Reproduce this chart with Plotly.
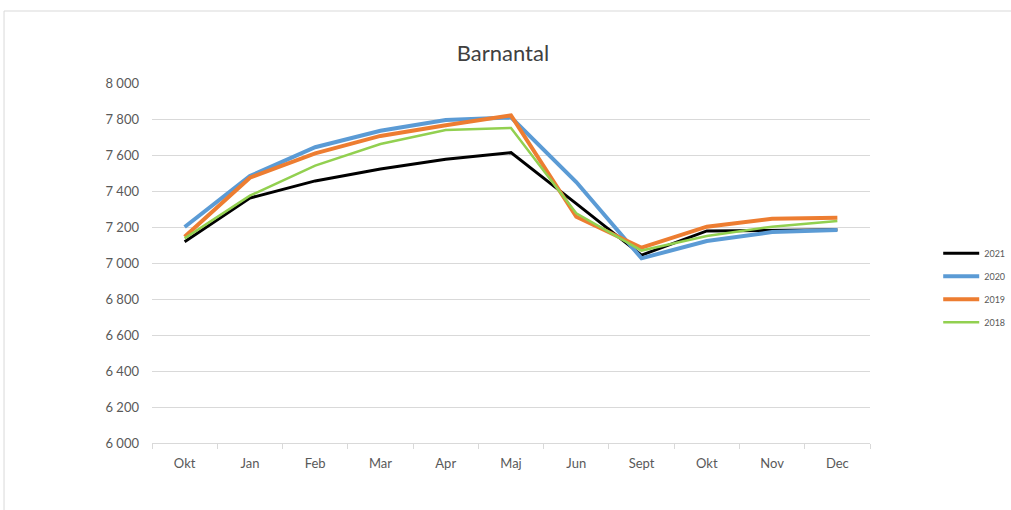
import plotly.graph_objects as go

categories = ["Okt", "Jan", "Feb", "Mar", "Apr", "Maj", "Jun", "Sept", "Okt ", "Nov", "Dec"]
tick_labels = ["Okt", "Jan", "Feb", "Mar", "Apr", "Maj", "Jun", "Sept", "Okt", "Nov", "Dec"]

y2021 = [7118, 7361, 7456, 7522, 7576, 7613, 7330, 7044, 7178, 7181, 7185]
y2020 = [7200, 7483, 7643, 7735, 7794, 7809, 7450, 7026, 7122, 7172, 7183]
y2019 = [7146, 7474, 7609, 7706, 7765, 7820, 7257, 7085, 7202, 7246, 7252]
y2018 = [7137, 7374, 7541, 7661, 7739, 7750, 7276, 7069, 7150, 7202, 7233]

series = [
    ("2021", y2021, "#000000", 3),
    ("2020", y2020, "#5B9BD5", 4),
    ("2019", y2019, "#ED7D31", 4),
    ("2018", y2018, "#92D050", 2.5),
]

fig = go.Figure()
for i, (name, ys, color, w) in enumerate(series):
    fig.add_trace(go.Scatter(
        x=categories, y=ys, name=name, mode="lines",
        line=dict(color=color, width=w),
        legendgroup=name,
        legendrank=i,
    ))

grid = "#d9d9d9"
fig.update_layout(
    width=1011, height=510,
    margin=dict(l=152, r=141, t=83, b=67),
    paper_bgcolor="white", plot_bgcolor="white",
    separators=", ",
    font=dict(family="Lato, Open Sans, sans-serif", color="#595959", size=13),
    title=dict(text="Barnantal", x=0.4975, xanchor="center", y=0.895, yanchor="middle",
               font=dict(size=22, color="#404040", weight=400,
                         family="Lato, Open Sans, sans-serif")),
    showlegend=True,
    legend=dict(xref="container", yref="container",
                x=0.928, xanchor="left", y=0.436, yanchor="middle",
                font=dict(size=9, color="#595959"),
                itemwidth=36, tracegroupgap=4, bgcolor="rgba(0,0,0,0)"),
    xaxis=dict(
        type="category", categoryorder="array", categoryarray=categories,
        tickvals=categories, ticktext=tick_labels,
        showgrid=False, showline=True, linecolor=grid, linewidth=1,
        ticks="outside", tickson="boundaries", ticklen=5, tickcolor=grid,
        ticklabelstandoff=8,
        range=[-0.5, 10.5], tickfont=dict(size=13, color="#595959"),
    ),
    yaxis=dict(
        range=[6000, 8000], dtick=200, tick0=6000, tickformat=",d",
        showgrid=True, gridcolor=grid, gridwidth=1, zeroline=False,
        showline=False, ticks="", ticklabelstandoff=12,
        tickfont=dict(size=13, color="#595959"),
    ),
    shapes=[dict(type="rect", xref="paper", yref="paper",
                 x0=-0.2061, x1=2.0, y0=-1.0, y1=1.2,
                 line=dict(color="#d9d9d9", width=1), fillcolor="rgba(0,0,0,0)", layer="below")],
)

fig.write_html("out.html", config={"displayModeBar": False},
               post_script="document.body.style.margin='0';document.body.style.overflow='hidden';")
